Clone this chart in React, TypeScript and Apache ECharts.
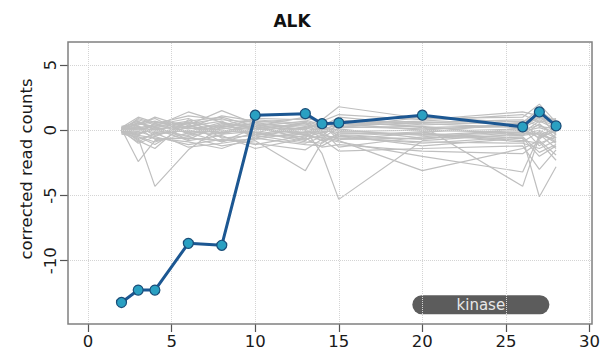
import React, { useEffect, useRef } from "react";
import * as echarts from "echarts";

const positions = [2, 3, 4, 6, 8, 10, 13, 14, 15, 20, 26, 27, 28];
const highlightValues = [-13.2, -12.25, -12.25, -8.67, -8.82, 1.15, 1.27, 0.5, 0.56, 1.15, 0.26, 1.4, 0.33];

const background1 = [0.0, 0.5, 0.3, 1.4, 0.6, 0.2, 0.4, 0.8, 1.8, 0.9, 1.0, 2.0, 0.6];
const background2 = [0.1, -2.4, -0.8, -0.5, 0.2, -0.3, -0.5, -0.2, 0.1, -0.6, -0.4, -0.2, -1.0];
const background3 = [-0.1, -0.6, -4.3, -1.5, 0.3, 0.1, -0.2, 0.3, -0.1, 0.0, 0.5, 1.2, -0.4];
const background4 = [0.2, 1.0, 0.6, 0.4, 1.5, 0.5, 0.2, -0.2, 0.3, 0.6, 0.8, 0.3, 0.1];
const background5 = [-0.2, -0.3, 0.2, -0.5, -1.2, -0.8, -3.1, -0.9, -0.4, -1.2, -0.6, -5.1, -2.8];
const background6 = [0.0, 0.3, -0.4, 0.2, -0.2, 0.6, 0.0, -1.8, -5.3, -0.8, -0.3, 0.0, -0.6];
const background7 = [0.1, -0.8, -1.4, 0.8, -0.6, -0.4, -1.0, -0.5, -0.8, -3.1, -1.4, -0.8, -1.9];
const background8 = [-0.1, 0.4, 0.7, 0.1, 0.4, 0.9, 0.8, 0.4, 0.6, 0.3, -4.3, -0.5, -0.1];
const background9 = [0.0, -0.2, 0.1, -0.8, -0.4, -1.4, -0.6, -1.3, -1.1, -1.6, -1.8, -0.9, -2.3];
const background10 = [0.2, 0.7, 0.0, 0.5, 0.9, 0.0, 0.6, 0.1, 0.4, 0.5, 0.2, 0.8, 0.3];
const background11 = [-0.3, -0.5, -0.9, -0.2, -0.9, -0.2, -0.7, -0.4, -0.6, -0.9, -1.0, -1.4, -0.8];
const background12 = [0.1, 0.2, 0.4, 0.9, -0.1, 0.3, 1.0, 0.6, 0.2, 1.0, 0.6, 1.6, 0.5];
const background13 = [0.0, -1.0, -0.5, -1.1, -0.7, -1.0, -1.5, -0.7, -1.6, -1.4, -1.2, -3.0, -1.5];
const background14 = [-0.2, 0.1, -0.2, 0.3, 0.7, -0.6, 0.3, -0.1, 0.0, -0.4, 0.0, 0.4, -0.3];
const background15 = [0.3, 0.5, 0.9, -0.3, 0.1, 0.4, -0.2, 0.2, 0.8, 0.2, 0.4, -0.4, 0.2];
const background16 = [-0.1, -0.4, -0.6, -0.9, -1.4, -0.5, -0.3, -0.8, -0.3, -0.2, -0.8, -1.0, -0.5];
const background17 = [0.0, 0.6, 0.2, 0.6, 0.2, 0.8, 0.5, 0.0, 0.5, 0.7, 1.2, 0.6, 0.9];
const background18 = [0.1, -0.1, 0.5, -0.1, -0.3, -0.1, -0.9, -1.0, -0.2, -0.3, -0.6, -2.0, -1.2];
const background19 = [-0.2, 0.3, -0.1, -0.4, 0.5, 0.2, 0.1, 0.5, -0.5, -0.1, 0.1, -0.6, 0.0];
const background20 = [0.0, -0.7, -0.3, 0.0, -0.5, -1.1, -0.4, -0.6, -0.9, -2.0, -3.2, -0.4, -0.7];
const background21 = [0.2, 0.0, 0.3, 0.7, 1.0, 0.3, 0.7, 0.3, 1.0, 0.4, 0.7, 1.0, 0.4];
const background22 = [-0.1, 0.2, -0.7, -0.6, -0.8, -0.7, -0.1, -0.3, -0.7, -0.6, -0.2, -0.3, -1.4];
const background23 = [0.0, -0.3, 0.1, 0.3, 0.0, -0.3, 0.2, 0.6, 0.3, 0.1, 0.3, 1.0, 0.7];
const background24 = [0.1, 0.8, 0.4, -0.2, 0.3, 0.5, -0.4, 0.0, -1.3, -0.5, -0.1, 0.2, -0.2];
const background25 = [0.0, 0.9, 0.5, 1.1, 0.8, 0.6, 0.9, 0.7, 1.2, 0.8, 1.4, 1.1, 0.8];
const background26 = [-0.1, -0.9, -0.2, -1.3, -1.0, -0.6, -1.1, -1.2, -0.5, -1.0, -0.5, -1.7, -1.1];
const background27 = [0.2, 0.4, 1.0, 0.2, 1.1, 0.7, 0.4, 0.2, 0.7, 0.6, 0.5, 0.9, 0.5];
const background28 = [-0.2, -0.1, -0.5, 0.6, -0.2, 0.1, -0.3, 0.1, -0.2, -0.3, -0.9, -0.1, -0.9];
const background29 = [0.1, 0.1, 0.3, -0.7, 0.4, -0.2, 0.6, -0.4, 0.5, 0.0, -0.2, 0.7, 0.1];
const background30 = [0.0, -0.5, -1.1, 0.4, -0.3, 0.4, -0.8, 0.2, -0.4, -0.7, 0.2, -1.2, -0.3];
const background31 = [-0.1, 0.6, 0.0, -0.1, 0.6, -0.4, 0.1, -0.6, 0.2, 0.3, -0.4, 0.5, -0.6];
const background32 = [0.1, -0.4, 0.6, 0.5, -0.9, 0.2, -0.6, 0.4, -0.7, -0.2, 0.6, -0.7, 0.4];

const backgroundSeries = [
  background1, background2, background3, background4, background5, background6,
  background7, background8, background9, background10, background11, background12,
  background13, background14, background15, background16, background17, background18,
  background19, background20, background21, background22, background23, background24,
  background25, background26, background27, background28, background29, background30,
  background31, background32,
];

const xTicks = [0, 5, 10, 15, 20, 25, 30];
const yTicks = [-10, -5, 0, 5];

const domainNames = ["kinase"];
const domainStart = [19.4];
const domainEnd = [27.6];
const domainLevel = [-13.37];

const FONT = "DejaVu Sans";

export default function App() {
  const ref = useRef<HTMLDivElement>(null);

  useEffect(() => {
    document.body.style.margin = "0";
    const chart = echarts.init(ref.current!, undefined, { renderer: "svg" });

    const grayLines = backgroundSeries.map((vals, i) => ({
      type: "line",
      name: "bg" + i,
      data: positions.map((p, j) => [p, vals[j]]),
      showSymbol: false,
      symbol: "none",
      lineStyle: { color: "#bfbfbf", width: 1.2 },
      silent: true,
      z: 3,
    }));

    const option = {
      animation: false,
      title: {
        text: "ALK",
        left: 287,
        top: 7,
        textAlign: "center",
        textStyle: { fontFamily: FONT, fontSize: 17, fontWeight: "bold", color: "#111" },
      },
      grid: {
        left: 68,
        right: 10,
        top: 42,
        bottom: 30,
        show: true,
        borderColor: "#808080",
        borderWidth: 1.5,
        backgroundColor: "transparent",
        z: 10,
      },
      xAxis: {
        type: "value",
        min: -1.2,
        max: 30.15,
        axisLine: { show: false, onZero: false },
        axisTick: {
          show: true,
          length: 8,
          lineStyle: { color: "#555", width: 1.2 },
          customValues: xTicks,
        },
        axisLabel: {
          customValues: xTicks,
          fontFamily: FONT,
          fontSize: 16.5,
          color: "#1a1a1a",
          margin: 9,
        },
        splitLine: { show: false },
      },
      yAxis: {
        type: "value",
        min: -14.85,
        max: 6.76,
        name: "corrected read counts",
        nameLocation: "middle",
        nameRotate: 90,
        nameGap: 33,
        nameTextStyle: { fontFamily: FONT, fontSize: 16.5, color: "#1a1a1a", padding: [0, 0, 0, 28] },
        axisLine: { show: false, onZero: false },
        axisTick: {
          show: true,
          length: 8,
          lineStyle: { color: "#555", width: 1.2 },
          customValues: yTicks,
        },
        axisLabel: { show: false, customValues: yTicks },
        splitLine: { show: false },
      },
      series: [
        {
          type: "line",
          name: "grid",
          data: [],
          silent: true,
          z: 1,
          markLine: {
            silent: true,
            symbol: "none",
            label: { show: false },
            lineStyle: { color: "#d4d4d4", type: "dotted", width: 1 },
            data: [
              ...xTicks.map((v) => ({ xAxis: v })),
              ...yTicks.map((v) => ({ yAxis: v })),
            ],
          },
        },
        ...grayLines,
        {
          type: "custom",
          name: "domains",
          z: 4,
          silent: true,
          data: domainNames.map((n, i) => [domainStart[i], domainEnd[i], domainLevel[i], n]),
          renderItem: (params: any, api: any) => {
            const x0 = api.value(0);
            const x1 = api.value(1);
            const y = api.value(2);
            const name = domainNames[params.dataIndex];
            const p0 = api.coord([x0, y]);
            const p1 = api.coord([x1, y]);
            const h = 19;
            return {
              type: "group",
              children: [
                {
                  type: "rect",
                  shape: { x: p0[0], y: p0[1] - h / 2, width: p1[0] - p0[0], height: h, r: h / 2 },
                  style: { fill: "#5c5c5c" },
                },
                {
                  type: "text",
                  x: (p0[0] + p1[0]) / 2,
                  y: p0[1],
                  style: {
                    text: name,
                    fill: "#e8e8e8",
                    fontFamily: FONT,
                    fontSize: 15,
                    align: "center",
                    verticalAlign: "middle",
                  },
                },
              ],
            };
          },
        },
        {
          type: "line",
          name: "ALK",
          data: positions.map((p, j) => [p, highlightValues[j]]),
          symbol: "circle",
          symbolSize: 10,
          showSymbol: true,
          lineStyle: { color: "#1c5792", width: 3 },
          itemStyle: { color: "#2aa0c2", borderColor: "#1a4d78", borderWidth: 1.2 },
          z: 6,
        },
      ],
    };

    chart.setOption(option as any);

    // rotated y tick labels (R style, reading bottom to top), placed through the y scale
    const labels = yTicks.map((v) => {
      const py = chart.convertToPixel({ yAxisIndex: 0 }, v) as number;
      return {
        type: "text",
        x: 50,
        y: py,
        rotation: Math.PI / 2,
        silent: true,
        style: {
          text: String(v),
          fill: "#1a1a1a",
          fontFamily: FONT,
          fontSize: 16.5,
          align: "center",
          verticalAlign: "middle",
        },
      };
    });
    chart.setOption({ graphic: labels } as any);

    return () => chart.dispose();
  }, []);

  return <div ref={ref} style={{ width: 603, height: 354 }} />;
}
